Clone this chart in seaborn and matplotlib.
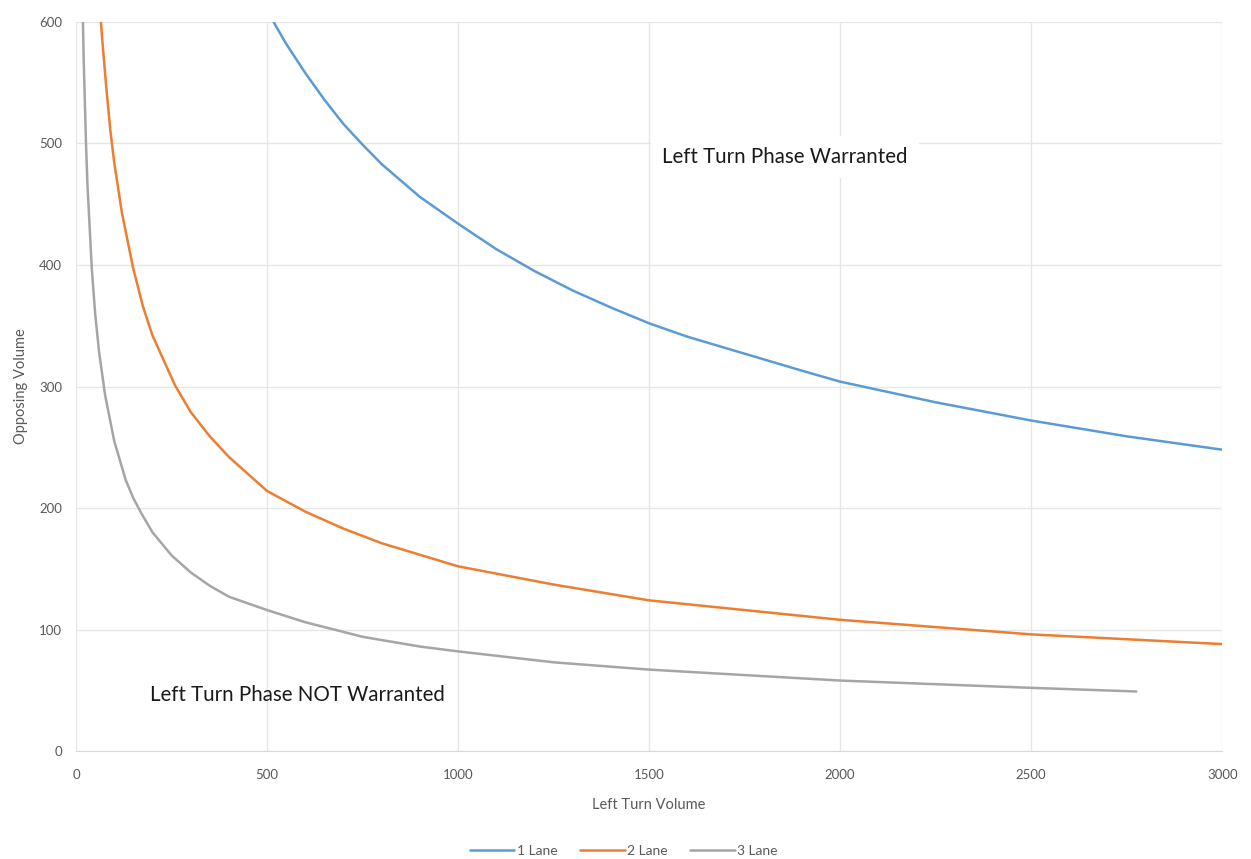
import pandas as pd
import matplotlib.pyplot as plt
import seaborn as sns

# values
lane1_x = [517, 550, 600, 650, 700, 750, 800, 900, 1000, 1100, 1200, 1300, 1400, 1500,
           1600, 1750, 1900, 2000, 2250, 2500, 2750, 3000]
lane1_y = [600, 582, 558, 536, 516, 499, 483, 456, 434, 413, 395, 379, 365, 352,
           341, 327, 313, 304, 287, 272, 259, 248]

lane2_x = [65, 70, 80, 90, 100, 120, 149, 175, 200, 259, 300, 350, 400, 500, 600, 700,
           800, 1000, 1250, 1500, 1750, 2000, 2500, 3000]
lane2_y = [600, 580, 543, 510, 484, 443, 398, 366, 342, 301, 279, 259, 242, 214, 197, 183,
           171, 152, 137, 124, 116, 108, 96, 88]

lane3_x = [18, 20, 26, 30, 41, 50, 60, 76, 100, 130, 150, 172, 200, 250, 300, 350, 400,
           500, 600, 750, 900, 1000, 1250, 1500, 2000, 2500, 2775]
lane3_y = [600, 569, 500, 465, 398, 360, 329, 293, 255, 223, 208, 195, 180, 161, 147, 136, 127,
           116, 106, 94, 86, 82, 73, 67, 58, 52, 49]

series_names = ['1 Lane', '2 Lane', '3 Lane']
x_ticks = [0, 500, 1000, 1500, 2000, 2500, 3000]
y_ticks = [0, 100, 200, 300, 400, 500, 600]

df = pd.concat([
    pd.DataFrame({'x': lane1_x, 'y': lane1_y, 'lane': series_names[0]}),
    pd.DataFrame({'x': lane2_x, 'y': lane2_y, 'lane': series_names[1]}),
    pd.DataFrame({'x': lane3_x, 'y': lane3_y, 'lane': series_names[2]}),
])

sns.set_style('white')
plt.rcParams['font.family'] = ['Lato', 'DejaVu Sans']

palette = {'1 Lane': '#5B9BD5', '2 Lane': '#ED7D31', '3 Lane': '#A5A5A5'}

fig = plt.figure(figsize=(12.51, 8.59), dpi=100)
ax = fig.add_axes([0.0608, 0.1257, 0.9162, 0.8487])

sns.lineplot(data=df, x='x', y='y', hue='lane', palette=palette, estimator=None,
             sort=False, linewidth=1.8, ax=ax, zorder=3)

ax.set_xlim(0, 3000)
ax.set_ylim(0, 600)
ax.set_xticks(x_ticks)
ax.set_yticks(y_ticks)
ax.grid(True, color='#E6E6E6', linewidth=1.0)
ax.set_axisbelow(True)
for s in ['top', 'right', 'left']:
    ax.spines[s].set_visible(False)
ax.spines['bottom'].set_color('#D9D9D9')
ax.tick_params(length=0, labelsize=9.5, colors='#595959')
ax.tick_params(axis='x', pad=13)
ax.tick_params(axis='y', pad=10)

ax.set_xlabel('Left Turn Volume', fontsize=10.5, color='#595959', labelpad=12)
ax.set_ylabel('Opposing Volume', fontsize=10.5, color='#595959', labelpad=8)

ax.text(1534, 489, 'Left Turn Phase Warranted', fontsize=14.8, color='#1a1a1a',
        va='center', ha='left', zorder=4,
        bbox=dict(facecolor='white', edgecolor='none', pad=8))
ax.text(194, 46, 'Left Turn Phase NOT Warranted', fontsize=14.8, color='#1a1a1a',
        va='center', ha='left', zorder=4)

ax.legend(loc='center', bbox_to_anchor=(0.478, -0.137), ncol=3, frameon=False,
          fontsize=10, handlelength=3.2, handletextpad=0.2, columnspacing=1.6,
          labelcolor='#595959')

plt.savefig('out.png', dpi=100)
